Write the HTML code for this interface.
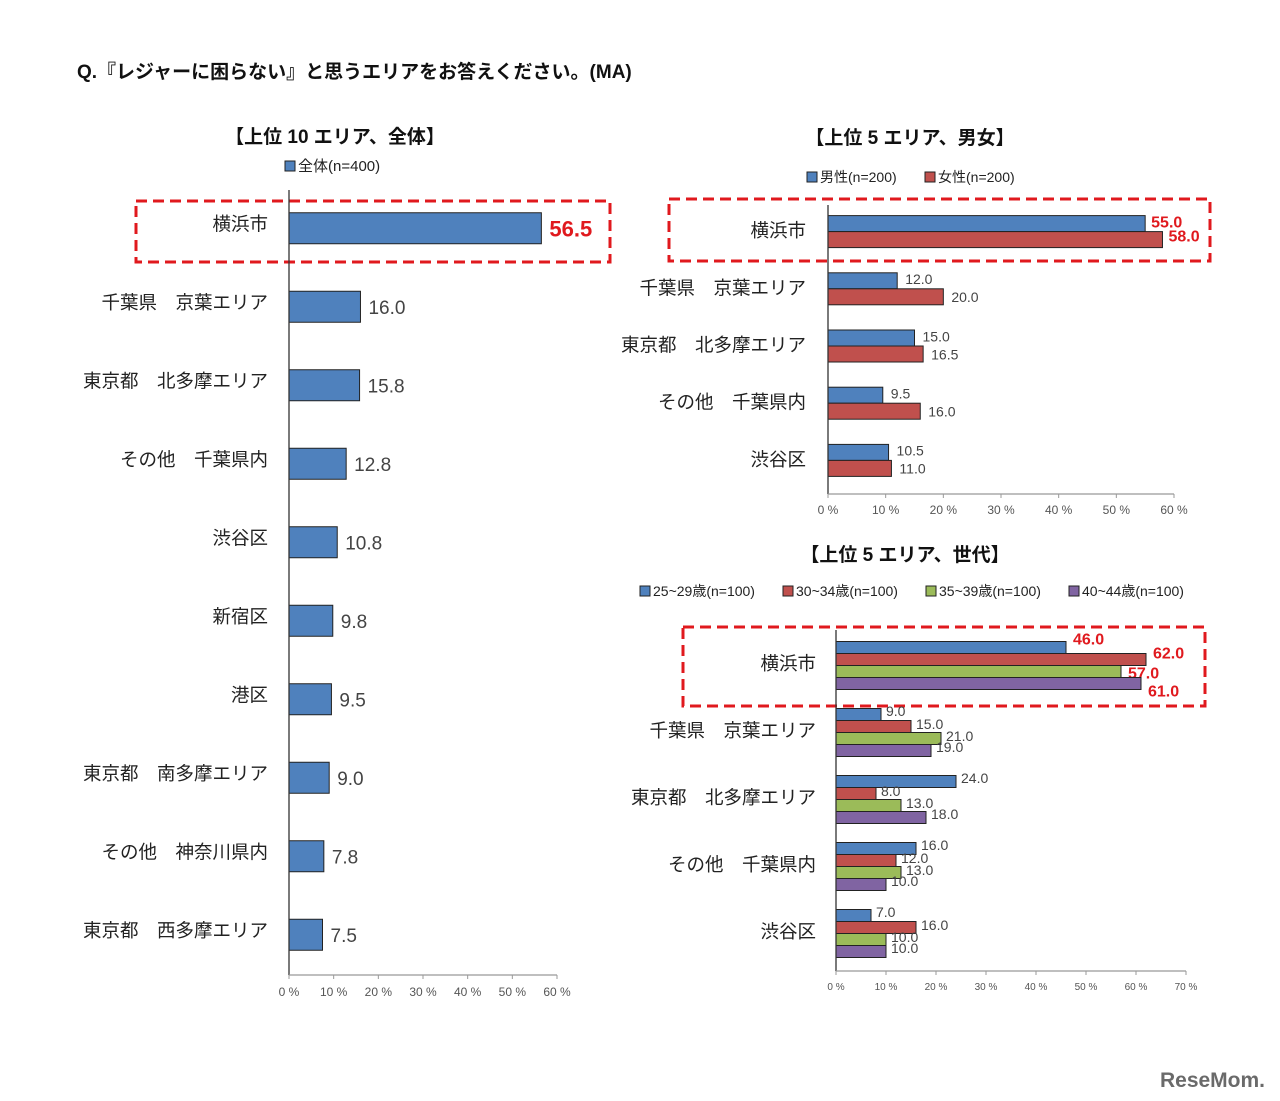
<!DOCTYPE html>
<html><head><meta charset="utf-8">
<style>
html,body{margin:0;padding:0;background:#fff;}
svg{display:block;font-family:"Liberation Sans","Noto Sans CJK JP",sans-serif;}
</style></head>
<body>
<svg id="c" width="1280" height="1101" viewBox="0 0 1280 1101" xmlns="http://www.w3.org/2000/svg">
<text x="77" y="78" font-size="19" font-weight="bold" fill="#111">Q.『レジャーに困らない』と思うエリアをお答えください。(MA)</text>
<text x="335" y="143" font-size="19" font-weight="bold" text-anchor="middle" fill="#111">【上位 10 エリア、全体】</text>
<text x="910" y="144" font-size="19" font-weight="bold" text-anchor="middle" fill="#111">【上位 5 エリア、男女】</text>
<text x="905" y="561" font-size="19" font-weight="bold" text-anchor="middle" fill="#111">【上位 5 エリア、世代】</text>
<g id="g1"></g>
<g id="g2"></g>
<g id="g3"></g>
<text x="1265" y="1087" font-size="21" font-weight="bold" text-anchor="end" fill="#6a6a6a">ReseMom.</text>
</svg>
<script>
const cats1 = ["横浜市","千葉県　京葉エリア","東京都　北多摩エリア","その他　千葉県内","渋谷区","新宿区","港区","東京都　南多摩エリア","その他　神奈川県内","東京都　西多摩エリア"];
const vals1 = [56.5,16.0,15.8,12.8,10.8,9.8,9.5,9.0,7.8,7.5];
const ticks1 = ["0 %","10 %","20 %","30 %","40 %","50 %","60 %"];

const cats2 = ["横浜市","千葉県　京葉エリア","東京都　北多摩エリア","その他　千葉県内","渋谷区"];
const series2Names = ["男性(n=200)","女性(n=200)"];
const male2 = [55.0,12.0,15.0,9.5,10.5];
const female2 = [58.0,20.0,16.5,16.0,11.0];
const ticks2 = ["0 %","10 %","20 %","30 %","40 %","50 %","60 %"];

const cats3 = ["横浜市","千葉県　京葉エリア","東京都　北多摩エリア","その他　千葉県内","渋谷区"];
const series3Names = ["25~29歳(n=100)","30~34歳(n=100)","35~39歳(n=100)","40~44歳(n=100)"];
const age25 = [46.0,9.0,24.0,16.0,7.0];
const age30 = [62.0,15.0,8.0,12.0,16.0];
const age35 = [57.0,21.0,13.0,13.0,10.0];
const age40 = [61.0,19.0,18.0,10.0,10.0];
const ticks3 = ["0 %","10 %","20 %","30 %","40 %","50 %","60 %","70 %"];

const NS="http://www.w3.org/2000/svg";
function mk(parent,tag,attrs,text){const e=document.createElementNS(NS,tag);for(const k in attrs)e.setAttribute(k,attrs[k]);if(text!==undefined)e.textContent=text;parent.appendChild(e);return e;}
const colors=["#4f81bd","#c0504d","#9bbb59","#8064a2"];

function drawChart(g,o){
  const x=v=>o.x0+(v/o.maxV)*(o.x1-o.x0);
  const n=o.cats.length;
  const band=(o.yBot-o.yTop)/n;
  let lx=o.legX;
  o.names.forEach((nm,i)=>{
    const r=mk(g,'rect',{x:lx,y:o.legY-10,width:10,height:10,fill:colors[o.colorOffset+i],stroke:'#222','stroke-width':1});
    
    
    const t=mk(g,'text',{x:lx+13,y:o.legY,'font-size':o.legFont,fill:'#222'},nm);
    
    
    lx+=o.legGap[i];
  });
  const b=mk(g,'rect',{x:o.box[0],y:o.box[1],width:o.box[2],height:o.box[3],fill:'none',stroke:'#e0191e','stroke-width':3,'stroke-dasharray':'11,6'});
  
  
  o.cats.forEach((c,ci)=>{
    const cy=o.yTop+band*(ci+0.5);
    const lt=mk(g,'text',{x:o.labelX,y:cy+o.catFont*0.35+(o.catOff||0),'font-size':o.catFont,'text-anchor':'end',fill:'#222'},c);
    
    
    const k=o.series.length;
    const top=cy-k*o.barH/2;
    o.series.forEach((s,si)=>{
      const v=s[ci];
      const y=top+si*o.barH;
      const r=mk(g,'rect',{x:o.x0,y:y,width:x(v)-o.x0,height:o.barH,fill:colors[o.colorOffset+si],stroke:'#222','stroke-width':1});
      
      
      const hl=ci===0;
      const fs=hl?o.hlFont:o.valFont;
      const off=hl?(o.hlOff?o.hlOff[si]:0):(o.valOff?o.valOff[si]:0);
      const vt=mk(g,'text',{x:x(v)+(hl?o.hlGap:o.valGap),y:y+o.barH/2+fs*0.38+off,'font-size':fs,'font-weight':hl?'bold':'normal',fill:hl?'#e0191e':'#444'},v.toFixed(1));
      
      
    });
  });
  const ya=mk(g,'line',{x1:o.x0,y1:o.axisTop,x2:o.x0,y2:o.yAxis,stroke:'#333','stroke-width':1.3});
  
  
  const xa=mk(g,'line',{x1:o.x0,y1:o.yAxis,x2:o.x1,y2:o.yAxis,stroke:'#999','stroke-width':1.3});
  
  
  o.ticks.forEach((t,i)=>{
    const tx=x(i*10);
    mk(g,'line',{x1:tx,y1:o.yAxis,x2:tx,y2:o.yAxis+4,stroke:'#999'});
    const tt=mk(g,'text',{x:tx,y:o.yAxis+o.tickDy,'font-size':o.tickFont,'text-anchor':'middle',fill:'#555'},t);
    
    
  });
}

drawChart(document.getElementById('g1'),{cats:cats1,series:[vals1],names:["全体(n=400)"],colorOffset:0,
  x0:289,x1:557,maxV:60,yTop:189,yBot:974,yAxis:975,axisTop:190,barH:31,
  labelX:268,catFont:18.5,catOff:-4,valFont:19,hlFont:22,valGap:8,hlGap:8,tickFont:12,tickDy:21,ticks:ticks1,
  legX:285,legY:171,legFont:15,legGap:[0],box:[136,201,474,61]});

drawChart(document.getElementById('g2'),{cats:cats2,series:[male2,female2],names:series2Names,colorOffset:0,
  x0:828,x1:1174,maxV:60,yTop:203,yBot:489,yAxis:494,axisTop:205,barH:16,
  labelX:806,catFont:18.5,catOff:-1,valFont:14,hlFont:16,valGap:8,hlGap:6,tickFont:12,tickDy:20,ticks:ticks2,valOff:[-2,0],hlOff:[-2,-4],
  legX:807,legY:182,legFont:14,legGap:[118,0],box:[669,199,541,62]});

drawChart(document.getElementById('g3'),{cats:cats3,series:[age25,age30,age35,age40],names:series3Names,colorOffset:0,
  x0:836,x1:1186,maxV:70,yTop:632,yBot:967,yAxis:971,axisTop:630,barH:12,
  labelX:816,catFont:18.5,catOff:-2,valFont:14,hlFont:16,valGap:5,hlGap:7,tickFont:10,tickDy:19,ticks:ticks3,valOff:[-4,-3,-3,-4],hlOff:[-9,-7,1,7],
  legX:640,legY:596,legFont:14,legGap:[143,143,143,0],box:[683,627,522,79]});
</script>
</body></html>
